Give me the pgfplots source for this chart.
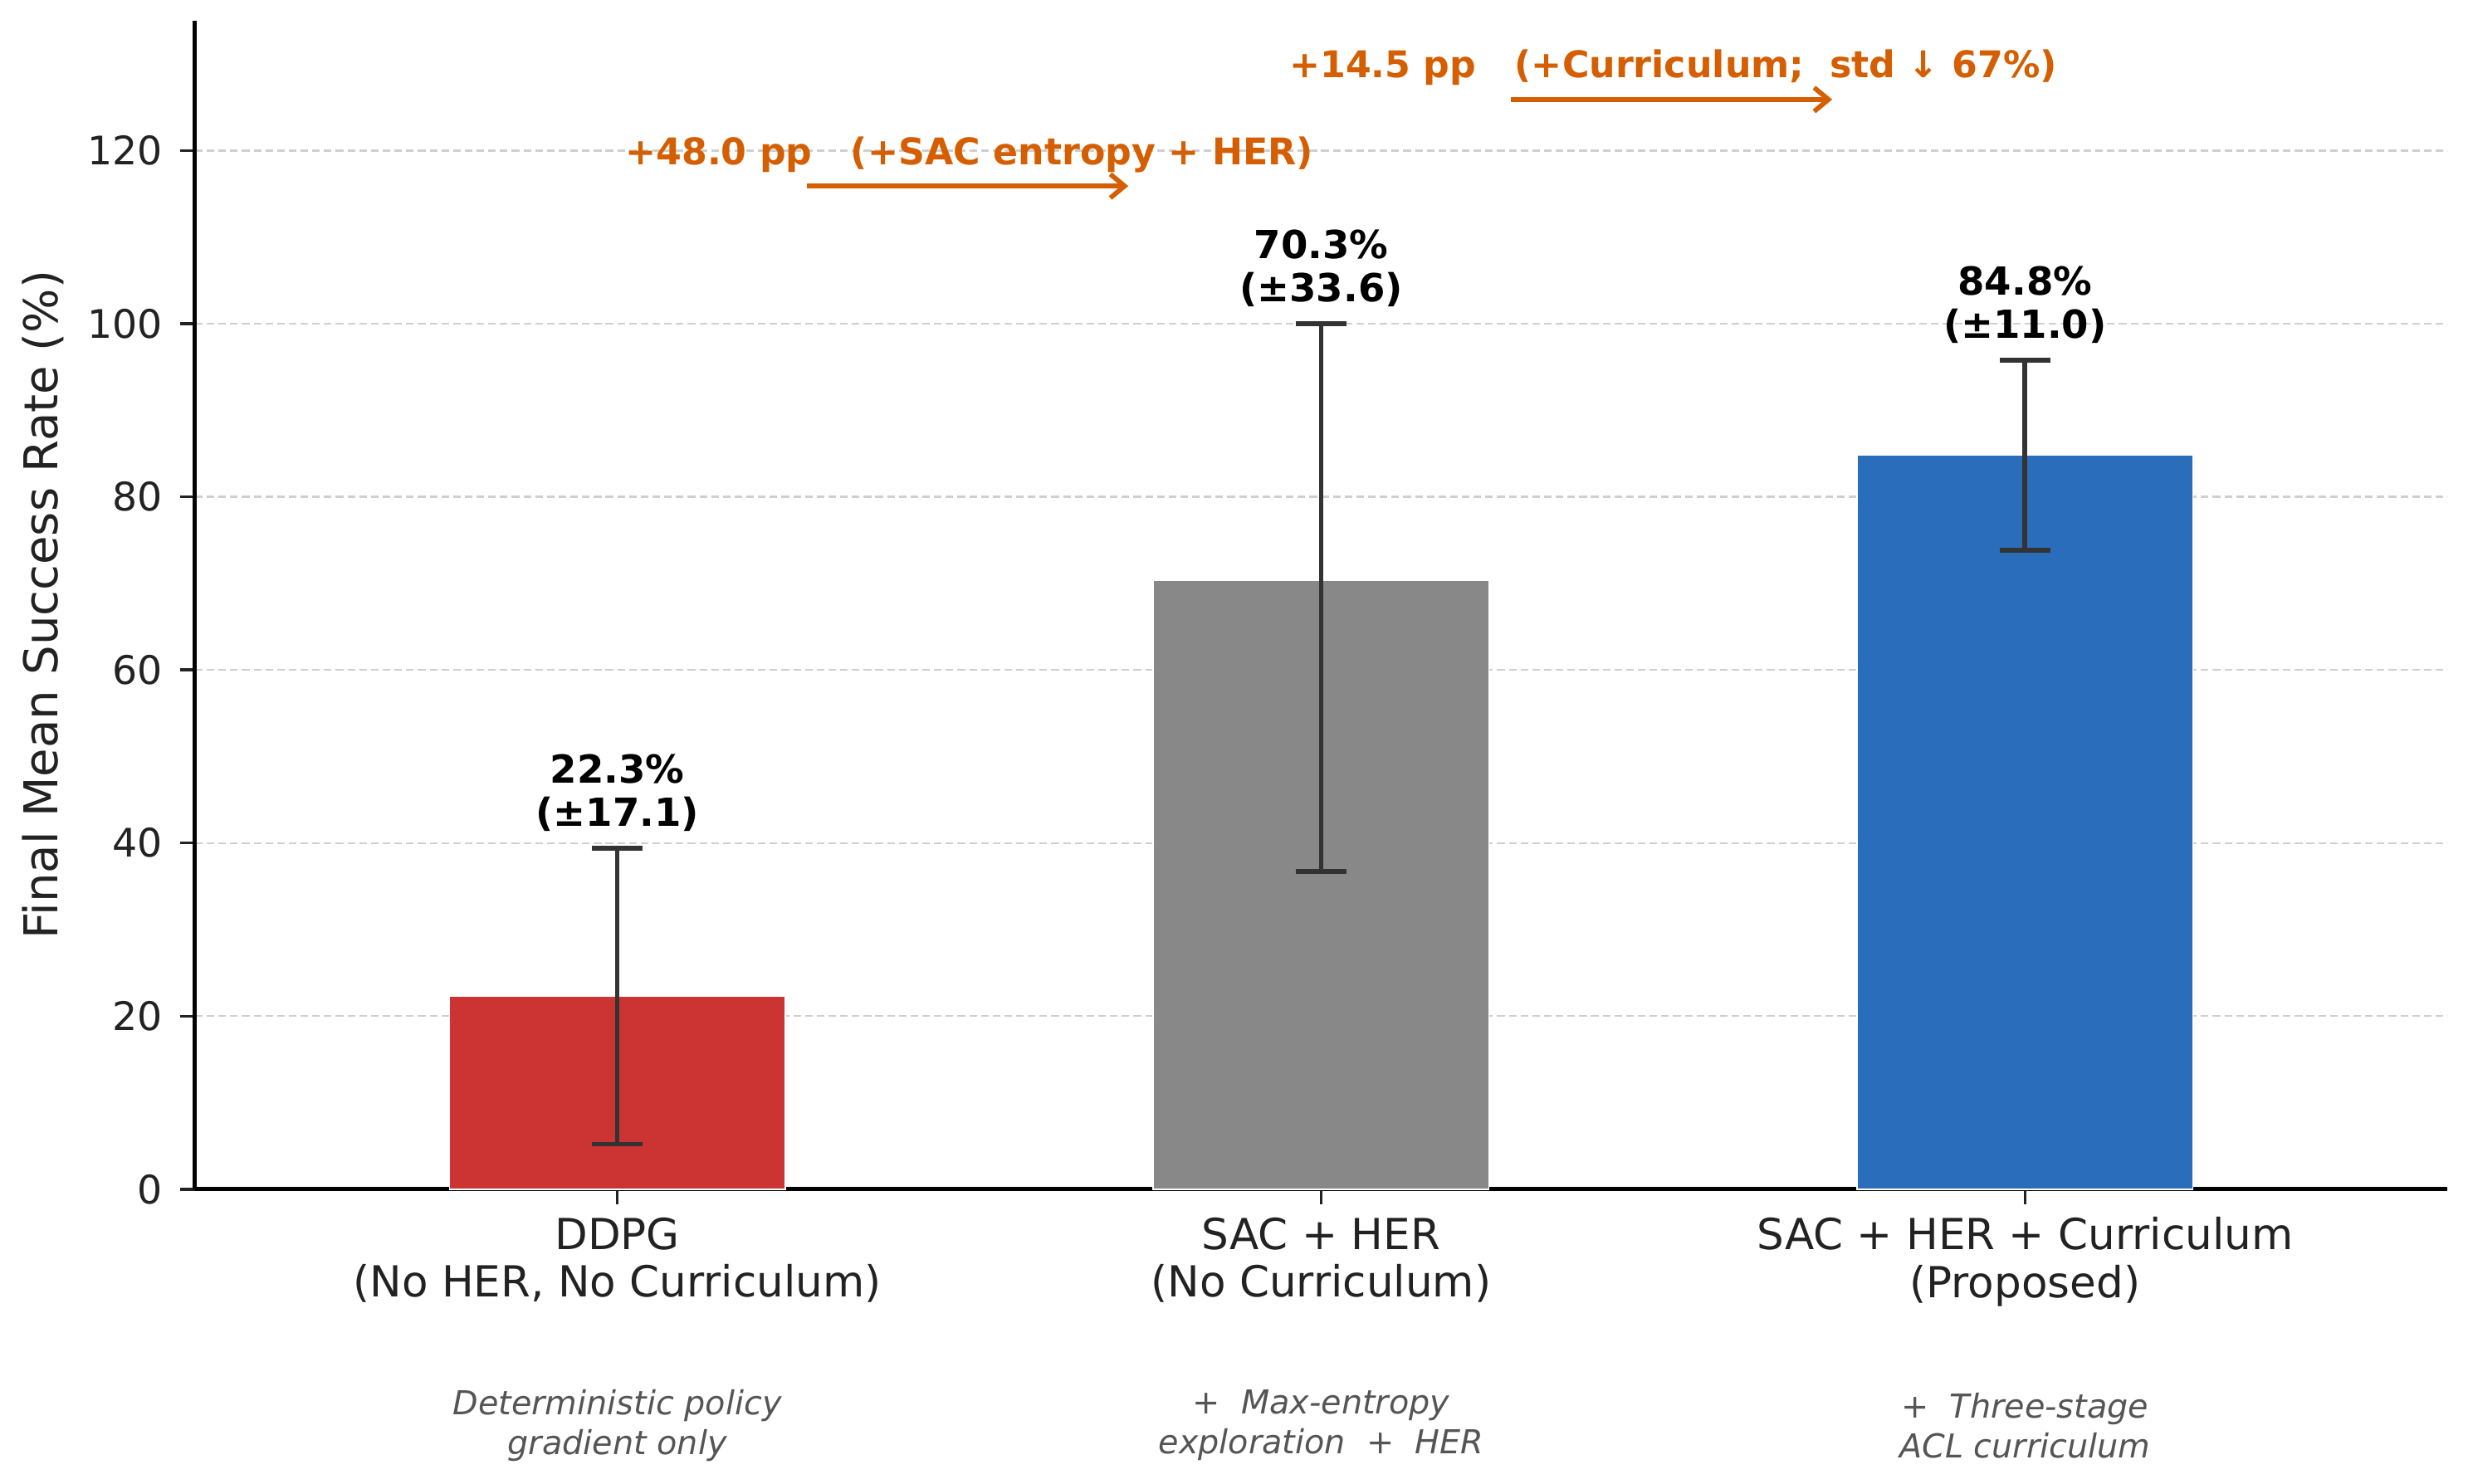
\documentclass[border=0pt]{standalone}
\usepackage{pgfplots}
\pgfplotsset{compat=1.18}
\usepackage{fontspec}
\setmainfont{DejaVu Sans}
\usetikzlibrary{arrows.meta}
\definecolor{cred}{RGB}{204,51,51}
\definecolor{cgray}{RGB}{136,136,136}
\definecolor{cblue}{RGB}{42,110,187}
\definecolor{corange}{RGB}{213,94,0}
\definecolor{ctext}{RGB}{34,34,34}
\definecolor{csub}{RGB}{85,85,85}
\definecolor{cerr}{RGB}{51,51,51}
\begin{document}
\begin{tikzpicture}
\begin{axis}[
  name=ax,
  scale only axis,
  width=710.4bp, height=368.6bp,
  xmin=-0.6, xmax=2.6, ymin=0, ymax=135,
  axis x line*=bottom, axis y line*=left,
  axis line style={line width=1.3bp, black},
  clip=false,
  xtick={0,1,2},
  xticklabels={{DDPG\\(No HER, No Curriculum)},{SAC + HER\\(No Curriculum)},{SAC + HER + Curriculum\\(Proposed)}},
  ytick={0,20,40,60,80,100,120},
  tick align=outside,
  major tick length=4.7bp,
  tick style={line width=0.9bp, ctext},
  xticklabel style={align=center, font=\fontsize{13.5bp}{15bp}\selectfont, text=ctext, inner sep=0pt, yshift=-4bp},
  yticklabel style={font=\fontsize{12.4bp}{14bp}\selectfont, text=ctext, inner sep=0pt, xshift=-5.3bp},
  /pgf/number format/assume math mode=true,
  ymajorgrids,
  major grid style={gray!38, line width=0.6bp, dash pattern=on 2.4bp off 1.3bp},
  ylabel={Final Mean Success Rate (\%)},
  ylabel style={at={(axis description cs:-0.0676,0.5)}, anchor=center, font=\fontsize{14.7bp}{16bp}\selectfont, text=ctext},
  error bars/error bar style={line width=1.5bp, draw=cerr},
  error bars/error mark options={rotate=90, line width=1.5bp, draw=cerr, mark size=8bp},
]
\addplot[ybar, bar width=0.477, bar shift=0pt, fill=cred, draw=white, line width=0.4bp,
  error bars/.cd, y dir=both, y explicit]
  coordinates {(0,22.3) +- (0,17.1)};
\addplot[ybar, bar width=0.477, bar shift=0pt, fill=cgray, draw=white, line width=0.4bp,
  error bars/.cd, y dir=both, y explicit]
  coordinates {(1,70.3) += (0,29.7) -= (0,33.6)};
\addplot[ybar, bar width=0.477, bar shift=0pt, fill=cblue, draw=white, line width=0.4bp,
  error bars/.cd, y dir=both, y explicit]
  coordinates {(2,84.8) +- (0,11.0)};

\begin{scope}[every node/.style={align=center, inner sep=0pt, anchor=south, font=\fontsize{12.2bp}{13.6bp}\selectfont\bfseries}]
\node at (axis cs:0,41.3) {22.3\%\\(±17.1)};
\node at (axis cs:1,101.9) {70.3\%\\(±33.6)};
\node at (axis cs:2,97.7) {84.8\%\\(±11.0)};
\end{scope}

\begin{scope}[every node/.style={inner sep=0pt, anchor=center, text=corange, font=\fontsize{11.6bp}{13bp}\selectfont\bfseries}]
\node at (axis cs:0.5,119.5) {+48.0 pp\ \ \ (+SAC entropy + HER)};
\node at (axis cs:1.5,129.6) {+14.5 pp\ \ \ (+Curriculum;\ \ std ↓ 67\%)};
\end{scope}
\draw[corange, line width=1.5bp, -{Straight Barb[length=4.5bp,width=7.5bp]}] (axis cs:0.269,115.9) -- (axis cs:0.726,115.9);
\draw[corange, line width=1.5bp, -{Straight Barb[length=4.5bp,width=7.5bp]}] (axis cs:1.269,125.9) -- (axis cs:1.726,125.9);

\begin{scope}[every node/.style={align=center, inner sep=0pt, anchor=center, text=csub, font=\fontsize{10.4bp}{12.5bp}\selectfont\itshape}]
\node at ([yshift=-74.5bp]axis cs:0,0) {Deterministic policy\\gradient only};
\node at ([yshift=-74.5bp]axis cs:1,0) {+\ \ Max-entropy\\exploration\ \ +\ \ HER};
\node at ([yshift=-74.5bp]axis cs:2,0) {+\ \ Three-stage\\ACL curriculum};
\end{scope}
\end{axis}
\pgfresetboundingbox
\path ([xshift=-61.5bp,yshift=-92.8bp]ax.south west) rectangle ([xshift=8.1bp,yshift=6.55bp]ax.north east);
\end{tikzpicture}
\end{document}
